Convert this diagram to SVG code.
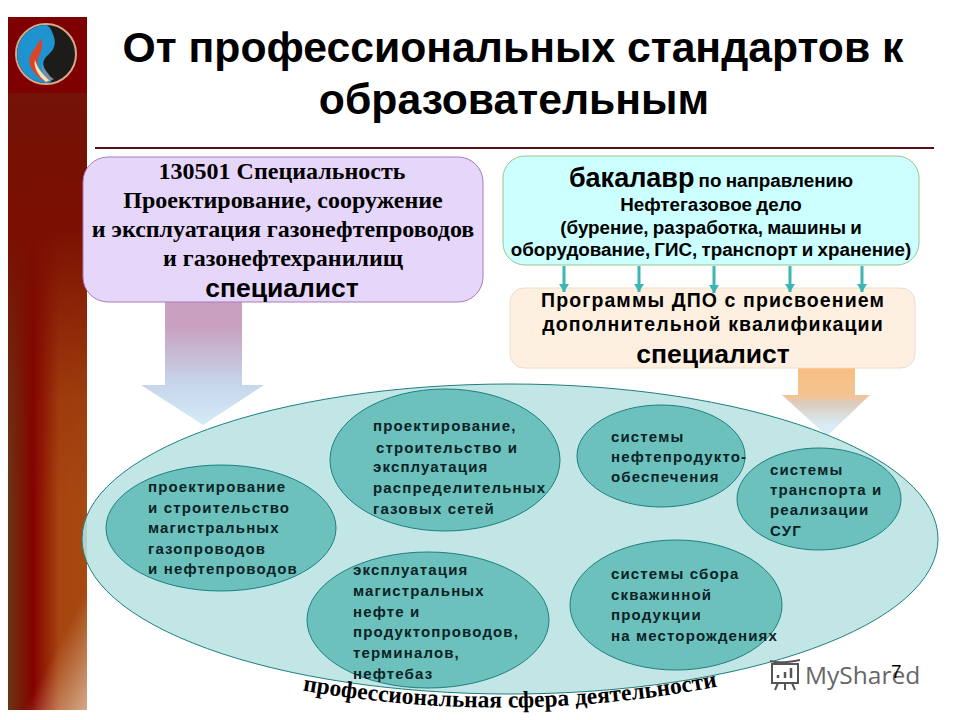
<svg xmlns="http://www.w3.org/2000/svg" width="960" height="720" viewBox="0 0 960 720">
<defs>
<style>
.s{font-family:"Liberation Sans",Arial,sans-serif;font-weight:bold;fill:#000}
.t{font-family:"Liberation Serif","Times New Roman",serif;font-weight:bold;fill:#000}
.e{font-size:15px;letter-spacing:1.15px;fill:#0b2226}
.b{font-size:18.8px;word-spacing:-1px}
.p{font-size:19.500px;letter-spacing:1.1px}
.h{font-size:42.700px}
.l{font-size:24px}
.sp{font-size:26.500px}
.oval{fill:#6cc1bd;stroke:#1e7f80;stroke-width:1}
.ar{stroke:#3db5b5;stroke-width:3;fill:none;marker-end:url(#h)}
</style>
<marker id="h" markerUnits="userSpaceOnUse" markerWidth="10" markerHeight="10" refX="8" refY="5" orient="auto"><path d="M0 0L8 5L0 10Z" fill="#3db5b5"/></marker>
<linearGradient id="side" x1="0" y1="0" x2="1" y2="0"><stop offset="0" stop-color="#6b3512"/><stop offset=".32" stop-color="#850200"/><stop offset=".65" stop-color="#a84510"/><stop offset="1" stop-color="#a54a10"/></linearGradient>
<linearGradient id="sideTop" x1="0" y1="0" x2="0" y2="1"><stop offset="0" stop-color="#701508"/><stop offset=".3" stop-color="#7a0f02"/><stop offset=".55" stop-color="#7a0f02" stop-opacity=".2"/><stop offset=".7" stop-color="#7a0f02" stop-opacity="0"/></linearGradient>
<linearGradient id="sidePale" x1="0" y1="0" x2="1" y2="1"><stop offset=".6" stop-color="#e0c0a8" stop-opacity="0"/><stop offset="1" stop-color="#e0c0a8" stop-opacity=".8"/></linearGradient>
<linearGradient id="a1" x1="0" y1="0" x2="0" y2="1"><stop offset="0" stop-color="#c9a0bf"/><stop offset=".2" stop-color="#c9a0bf"/><stop offset=".65" stop-color="#c6d4ea"/><stop offset="1" stop-color="#d3ecf8"/></linearGradient>
<linearGradient id="a2" x1="0" y1="0" x2="0" y2="1"><stop offset="0" stop-color="#f8bd80"/><stop offset=".42" stop-color="#f4c494"/><stop offset=".5" stop-color="#dccbb8"/><stop offset=".85" stop-color="#d8ecf6"/></linearGradient>
<path id="curve" d="M300 690Q510 727 720 686"/>
</defs>
<rect width="960" height="720" fill="#fff"/>
<g id="sidebar">
<rect x="8" y="17" width="79" height="693" fill="url(#side)"/>
<rect x="8" y="17" width="79" height="693" fill="url(#sideTop)"/>
<rect x="8" y="560" width="79" height="150" fill="url(#sidePale)"/>
<rect x="8" y="17" width="79" height="76" fill="#7f0000"/>
<circle cx="46" cy="54" r="30" fill="#1e1c1a" stroke="#d8a88a" stroke-width="2"/>
<path d="M46 25A29 29 0 0 0 46 83C56 83 50 76 47 72C42 66 42 60 48 55C54 50 56 44 54 37C52 31 50 26 46 25Z" fill="#1f93d0"/>
<path d="M46 82C34 76 27 64 30 57C32 50 38 46 41 38C44 46 41 52 38 58C36 66 40 74 50 80Z" fill="#d8452a"/>
<path d="M46 82C38 76 33 66 35 60C37 66 41 74 50 80Z" fill="#f3e5b0"/>
<path d="M50 81C44 76 41 70 42 64C44 70 48 76 54 79Z" fill="#7f8aa8"/>
</g>
<g id="title">
<text class="s h" x="513" y="62" text-anchor="middle">От профессиональных стандартов к</text>
<text class="s h" x="514" y="114" text-anchor="middle">образовательным</text>
<rect x="95" y="147" width="839" height="2" fill="#5a1010"/>
</g>
<g id="arrow-left"><path d="M165 301H242V385H264L203 425L141 385H165Z" fill="url(#a1)"/></g>
<g id="arrow-right"><path d="M798 368H855V395H870L827 436L782 395H798Z" fill="url(#a2)"/></g>
<g id="box-specialty">
<rect x="83" y="157" width="400" height="145" rx="25" fill="#e6d6fa" stroke="#a77db5" stroke-width="1"/>
<text class="t l" x="282" y="179" text-anchor="middle">130501 Специальность</text>
<text class="t l" x="283" y="208" text-anchor="middle">Проектирование, сооружение</text>
<text class="t l" x="283" y="237" text-anchor="middle">и эксплуатация газонефтепроводов</text>
<text class="t l" x="283" y="266" text-anchor="middle">и газонефтехранилищ</text>
<text class="s sp" x="282" y="297" text-anchor="middle">специалист</text>
</g>
<g id="box-bachelor">
<rect x="503" y="156" width="416" height="109" rx="22" fill="#ccffff" stroke="#9cc48a" stroke-width="1"/>
<text class="s b" x="711" y="187" text-anchor="middle"><tspan font-size="27">бакалавр</tspan> по направлению</text>
<text class="s b" x="711" y="211" text-anchor="middle">Нефтегазовое дело</text>
<text class="s b" x="711" y="234" text-anchor="middle">(бурение, разработка, машины и</text>
<text class="s b" x="711" y="256" text-anchor="middle">оборудование, ГИС, транспорт и хранение)</text>
</g>
<g id="box-dpo">
<rect x="510" y="288" width="405" height="80" rx="14" fill="#fdf0e0" stroke="#efdcc8" stroke-width="1"/>
<text class="s p" x="713" y="307" text-anchor="middle">Программы ДПО с присвоением</text>
<text class="s p" x="713" y="331" text-anchor="middle">дополнительной квалификации</text>
<text class="s sp" x="713" y="363" text-anchor="middle">специалист</text>
</g>
<g id="connectors">
<path class="ar" d="M564 266V292"/>
<path class="ar" d="M639 266V292"/>
<path class="ar" d="M714 266V293"/>
<path class="ar" d="M790 266V292"/>
<path class="ar" d="M862 266V292"/>
</g>
<g id="sphere"><ellipse cx="510" cy="539" rx="428" ry="155" fill="#b8e3e1" fill-opacity=".88" stroke="#1e7f80" stroke-width="1"/></g>
<g id="oval-1">
<ellipse class="oval" cx="221" cy="528" rx="115" ry="63"/>
<text class="s e" x="148" y="492">проектирование</text>
<text class="s e" x="148" y="512.500">и строительство</text>
<text class="s e" x="148" y="533">магистральных</text>
<text class="s e" x="148" y="553.500">газопроводов</text>
<text class="s e" x="148" y="574">и нефтепроводов</text>
</g>
<g id="oval-2">
<ellipse class="oval" cx="445" cy="460" rx="115" ry="71"/>
<text class="s e" x="373" y="431">проектирование,</text>
<text class="s e" x="376" y="452.500">строительство  и</text>
<text class="s e" x="373" y="472">эксплуатация</text>
<text class="s e" x="373" y="493">распределительных</text>
<text class="s e" x="373" y="514">газовых сетей</text>
</g>
<g id="oval-3">
<ellipse class="oval" cx="661" cy="456" rx="84" ry="51"/>
<text class="s e" x="611" y="442">системы</text>
<text class="s e" x="611" y="462">нефтепродукто-</text>
<text class="s e" x="611" y="482">обеспечения</text>
</g>
<g id="oval-4">
<ellipse class="oval" cx="819" cy="499" rx="82" ry="51"/>
<text class="s e" x="770" y="475">системы</text>
<text class="s e" x="770" y="495">транспорта  и</text>
<text class="s e" x="770" y="515">реализации</text>
<text class="s e" x="770" y="536">СУГ</text>
</g>
<g id="oval-5">
<ellipse class="oval" cx="428" cy="620" rx="121" ry="68"/>
<text class="s e" x="353" y="575">эксплуатация</text>
<text class="s e" x="353" y="596">магистральных</text>
<text class="s e" x="353" y="617">нефте и</text>
<text class="s e" x="353" y="637">продуктопроводов,</text>
<text class="s e" x="353" y="658">терминалов,</text>
<text class="s e" x="353" y="679">нефтебаз</text>
</g>
<g id="oval-6">
<ellipse class="oval" cx="676" cy="605" rx="106" ry="65"/>
<text class="s e" x="611" y="579">системы  сбора</text>
<text class="s e" x="611" y="600">скважинной</text>
<text class="s e" x="611" y="620">продукции</text>
<text class="s e" x="611" y="641">на месторождениях</text>
</g>
<g id="caption">
<text class="t" font-size="23.500"><textPath href="#curve" startOffset="50%" text-anchor="middle">профессиональная сфера деятельности</textPath></text>
</g>
<g id="watermark">
<path d="M772 664H798V683H772ZM778 683L775 690M785 683V690M792 683L795 690M770 661Q780 664 800 660" fill="none" stroke="#555" stroke-width="2"/>
<path d="M778 678V675M785 678V672M791 678V668" stroke="#555" stroke-width="2.500" fill="none"/>
<text x="805" y="684" font-family="'Open Sans','Noto Sans',sans-serif" font-size="24.500" fill="#666">MyShared</text>
<text x="891" y="678" font-family="'Liberation Sans',Arial,sans-serif" font-size="19" fill="#000">7</text>
</g>
</svg>
